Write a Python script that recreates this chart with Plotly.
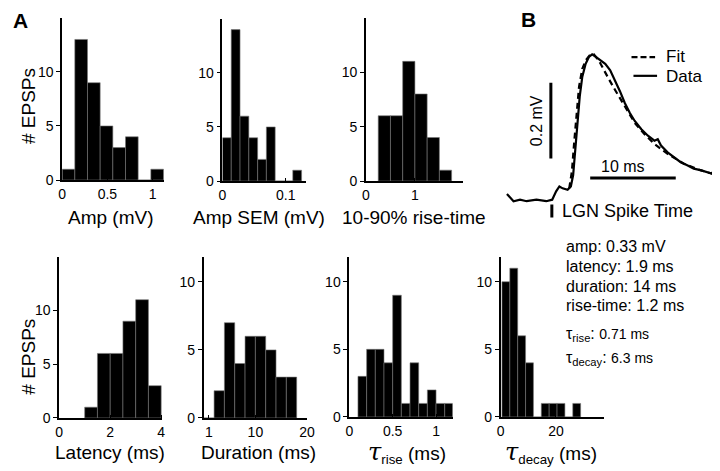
import plotly.graph_objects as go

W, H = 720, 471
FONT = "Liberation Sans, Arial, sans-serif"

# ---------------- histogram data (bin edges, counts) ----------------
amp_edges = [0.0, 0.14, 0.28, 0.42, 0.56, 0.70, 0.84, 0.98, 1.12]
amp_counts = [1, 13, 9, 5, 3, 4, 0, 1]

sem_edges = [0.0, 0.0139, 0.0278, 0.0417, 0.0556, 0.0694, 0.0833, 0.0972, 0.1111, 0.125]
sem_counts = [4, 14, 6, 4, 2, 5, 0, 0, 1]

rise_edges = [0.25, 0.50, 0.75, 1.00, 1.25, 1.50, 1.75]
rise_counts = [6, 6, 11, 8, 4, 1]

lat_edges = [1.0, 1.5, 2.0, 2.5, 3.0, 3.5, 4.0]
lat_counts = [1, 6, 6, 9, 11, 3]

dur_edges = [0, 2, 4, 6, 8, 10, 12, 14, 16, 18]
dur_counts = [0, 2, 7, 4, 6, 6, 5, 3, 3]

trise_edges = [0.1, 0.2, 0.3, 0.4, 0.5, 0.6, 0.7, 0.8, 0.9, 1.0, 1.1, 1.2]
trise_counts = [3, 5, 5, 4, 9, 1, 4, 1, 2, 1, 1]

tdecay_edges = [0.45, 3.3, 6.15, 9.0, 11.85, 14.7, 17.55, 20.4, 23.25, 26.1, 28.95]
tdecay_counts = [10, 11, 6, 4, 0, 1, 1, 1, 0, 1]

# axis tick values / labels
amp_ticks = [0, 0.5, 1]
sem_ticks = [0, 0.1]
rise_ticks = [0, 1, 2]
lat_ticks = [0, 2, 4]
dur_ticks = [1, 10, 20]
trise_ticks = [0, 0.5, 1]
tdecay_ticks = [0, 20]
count_ticks = [0, 5, 10]

# ---------------- example EPSP (time in ms from LGN spike, mV) ----------------
data_t = [-5.25, -4.48, -3.72, -2.95, -1.80, -0.65, 0.04, 0.50, 0.88, 1.26, 1.84, 2.22,
          2.49, 2.72, 2.99, 3.26, 3.56, 3.95, 4.33, 4.71, 5.10, 5.67, 6.24, 6.82, 7.39,
          7.97, 8.54, 9.12, 9.69, 10.46, 11.23, 11.99, 12.38, 12.76, 13.53, 14.29, 15.06,
          15.82, 16.59, 17.36, 18.12, 18.70, 19.08, 19.46]
data_v = [0.015, -0.004, 0.0, -0.004, 0.0, -0.004, 0.0, 0.022, 0.035, 0.030, 0.026, 0.035,
          0.065, 0.125, 0.203, 0.273, 0.325, 0.359, 0.377, 0.384, 0.378, 0.368, 0.359, 0.342, 0.316,
          0.286, 0.255, 0.229, 0.208, 0.186, 0.169, 0.156, 0.160, 0.143, 0.125, 0.112, 0.099,
          0.091, 0.082, 0.078, 0.074, 0.069, 0.082, 0.060]
fit_t = [2.03, 2.34, 2.61, 2.87, 3.18, 3.56, 3.95, 4.41, 4.90, 5.48, 6.05, 6.63, 7.39,
         8.16, 8.93, 9.69, 10.84, 11.99, 13.53, 15.44, 17.36, 19.27]
fit_v = [0.030, 0.074, 0.151, 0.229, 0.299, 0.346, 0.368, 0.381, 0.384, 0.368, 0.346, 0.320,
         0.290, 0.260, 0.229, 0.203, 0.173, 0.147, 0.121, 0.095, 0.078, 0.065]
scale_mv = 0.2
scale_ms = 10
spike_time = 0.0

summary_lines = ["amp: 0.33 mV", "latency: 1.9 ms", "duration: 14 ms", "rise-time: 1.2 ms"]
tau_rise_txt = "0.71 ms"
tau_decay_txt = "6.3 ms"


def px(x):
    return x / W


def py(y):
    return 1 - y / H


fig = go.Figure()
layout = dict(width=W, height=H, margin=dict(l=0, r=0, t=0, b=0),
              paper_bgcolor="white", plot_bgcolor="white", showlegend=False,
              font=dict(family=FONT, size=14, color="black"))

# panel geometry: (x_left, x_right, y_top, y_bottom) in pixels, x range, y range
panels = [
    (amp_edges, amp_counts, amp_ticks, (51, 155, 10, 175), [0, 1.13], [0, 15]),
    (sem_edges, sem_counts, sem_ticks, (214, 299, 11, 176), [0, 0.132], [0, 15]),
    (rise_edges, rise_counts, rise_ticks, (360, 459, 10, 176), [0, 1.99], [0, 15]),
    (lat_edges, lat_counts, lat_ticks, (48, 153, 253, 417), [0, 4.05], [0, 15]),
    (dur_edges, dur_counts, dur_ticks, (195, 300, 253, 417), [0, 20], [0, 11.85]),
    (trise_edges, trise_counts, trise_ticks, (343, 448, 253, 416), [0, 1.19], [0, 11.85]),
    (tdecay_edges, tdecay_counts, tdecay_ticks, (497, 602, 253, 416), [0, 37.4], [0, 11.85]),
]

for i, (edges, counts, ticks, (x0, x1, y0, y1), xr, yr) in enumerate(panels, start=1):
    centers = [(edges[k] + edges[k + 1]) / 2 for k in range(len(counts))]
    widths = [edges[k + 1] - edges[k] for k in range(len(counts))]
    sfx = "" if i == 1 else str(i)
    fig.add_trace(go.Bar(x=centers, y=counts, width=widths,
                         marker=dict(color="black", line=dict(color="#777", width=0.6)),
                         xaxis="x" + sfx, yaxis="y" + sfx, hoverinfo="skip"))
    layout["xaxis" + sfx] = dict(domain=[px(x0), px(x1)], range=xr, anchor="y" + sfx,
                                 showline=True, linecolor="black", linewidth=1.6,
                                 showgrid=False, zeroline=False,
                                 tickmode="array", tickvals=ticks,
                                 ticktext=[str(t) for t in ticks],
                                 ticks="inside", ticklen=3, tickwidth=1.2, tickcolor="black",
                                 tickfont=dict(size=14, family=FONT))
    layout["yaxis" + sfx] = dict(domain=[py(y1), py(y0)], range=yr, anchor="x" + sfx,
                                 showline=True, linecolor="black", linewidth=1.6,
                                 showgrid=False, zeroline=False,
                                 tickmode="array", tickvals=count_ticks,
                                 ticks="outside", ticklen=4, tickwidth=1.2, tickcolor="black",
                                 tickfont=dict(size=14, family=FONT))

# ---------------- panel B ----------------
bx0, bx1, by0, by1 = 500, 720, 30, 220
# pixel -> data mapping: 8.7 px/ms, 385 px/mV, spike at x=549, baseline y=195
t_lo, t_hi = (bx0 - 549) / 8.7, (bx1 - 549) / 8.7
v_lo, v_hi = (195 - by1) / 385, (195 - by0) / 385
fig.add_trace(go.Scatter(x=data_t, y=data_v, mode="lines",
                         line=dict(color="black", width=2.2),
                         xaxis="x8", yaxis="y8", hoverinfo="skip"))
fig.add_trace(go.Scatter(x=fit_t, y=fit_v, mode="lines",
                         line=dict(color="black", width=2.2, dash="6px,4px"),
                         xaxis="x8", yaxis="y8", hoverinfo="skip"))
layout["xaxis8"] = dict(domain=[px(bx0), px(bx1)], range=[t_lo, t_hi], anchor="y8", visible=False)
layout["yaxis8"] = dict(domain=[py(by1), py(by0)], range=[v_lo, v_hi], anchor="x8", visible=False)

shapes = []
# vertical scale bar (0.2 mV)
sb_t = (548 - 549) / 8.7
sb_v0 = (195 - 153) / 385
shapes.append(dict(type="line", xref="x8", yref="y8", x0=sb_t, x1=sb_t,
                   y0=sb_v0, y1=sb_v0 + scale_mv, line=dict(color="black", width=3)))
# horizontal scale bar (10 ms)
hb_v = (195 - 173) / 385
hb_t0 = (588 - 549) / 8.7
shapes.append(dict(type="line", xref="x8", yref="y8", x0=hb_t0, x1=hb_t0 + scale_ms,
                   y0=hb_v, y1=hb_v, line=dict(color="black", width=3)))
# LGN spike time marker
shapes.append(dict(type="line", xref="x8", yref="y8", x0=spike_time, x1=spike_time,
                   y0=(195 - 200) / 385, y1=(195 - 213) / 385, line=dict(color="black", width=3)))
# legend samples
shapes.append(dict(type="line", xref="paper", yref="paper", x0=px(630), x1=px(654),
                   y0=py(50), y1=py(50), line=dict(color="black", width=2.2, dash="6px,3px")))
shapes.append(dict(type="line", xref="paper", yref="paper", x0=px(632), x1=px(656),
                   y0=py(69), y1=py(69), line=dict(color="black", width=2.2)))
layout["shapes"] = shapes

ann = []


def text(x, y, s, size=18, anchor="center", angle=0, bold=False):
    ann.append(dict(x=px(x), y=py(y), xref="paper", yref="paper", text=("<b>%s</b>" % s) if bold else s,
                    showarrow=False, xanchor=anchor, yanchor="middle", textangle=angle,
                    borderpad=0,
                    font=dict(family=FONT, size=size, color="black")))


text(9, 13, "A", size=21, bold=True)
text(525, 12, "B", size=21, bold=True)
text(17, 100, "# EPSPs", size=19, angle=-90)
text(17, 355, "# EPSPs", size=19, angle=-90)
text(101, 213, "Amp (mV)", size=19)
text(251, 213, "Amp SEM (mV)", size=19)
text(409, 213, "10-90% rise-time", size=19)
text(100, 452, "Latency (ms)", size=19)
text(251, 452, "Duration (ms)", size=19)
text(402, 452, "<span style='font-family:DejaVu Serif;font-size:24px'><i>τ</i></span><sub>rise</sub> (ms)", size=19)
text(548, 452, "<span style='font-family:DejaVu Serif;font-size:24px'><i>τ</i></span><sub>decay</sub> (ms)", size=19)
text(533, 115, "0.2 mV", size=16, angle=-90)
text(621, 161, "10 ms", size=16)
text(558, 207, "LGN Spike Time", size=18, anchor="left")
text(664, 49, "Fit", size=17, anchor="left")
text(664, 70, "Data", size=17, anchor="left")
for k, s in enumerate(summary_lines):
    text(562, 243 + 20 * k, s, size=16, anchor="left")
text(562, 332, "τ<sub>rise</sub>: <span style='font-size:14px'>%s</span>" % tau_rise_txt, size=16, anchor="left")
text(562, 357, "τ<sub>decay</sub>: <span style='font-size:14px'>%s</span>" % tau_decay_txt, size=16, anchor="left")
layout["annotations"] = ann

fig.update_layout(**layout)
fig.write_html("out.html")
